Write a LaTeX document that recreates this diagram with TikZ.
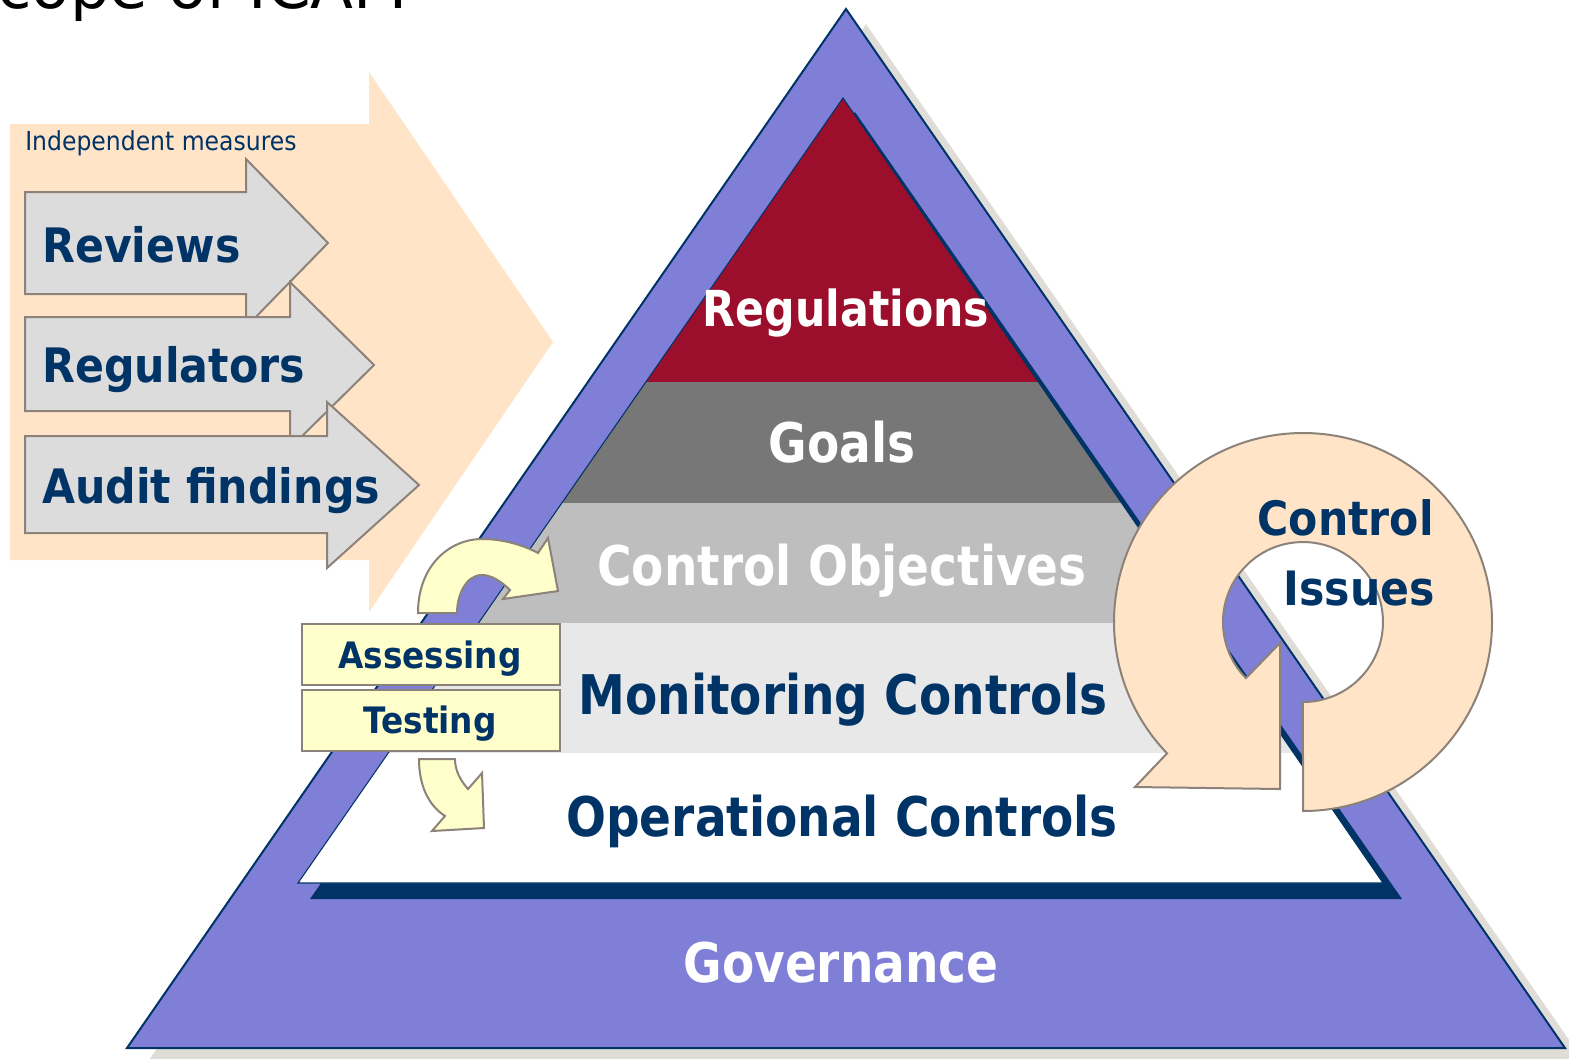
\documentclass[tikz,border=0pt]{standalone}
\usepackage{fontspec}
\setmainfont{DejaVu Sans}
\newfontfamily\tahfont[FakeStretch=0.86]{DejaVu Sans}
\newfontfamily\verfont[FakeStretch=0.9]{DejaVu Sans}

\definecolor{navy}{RGB}{0,51,102}
\definecolor{govpurple}{RGB}{127,127,215}
\definecolor{dropgray}{RGB}{224,221,216}
\definecolor{regred}{RGB}{155,14,44}
\definecolor{goalgray}{RGB}{119,119,119}
\definecolor{objgray}{RGB}{190,190,190}
\definecolor{mongray}{RGB}{232,232,232}
\definecolor{peach}{RGB}{255,228,200}
\definecolor{armgray}{RGB}{220,220,220}
\definecolor{edgebrown}{RGB}{140,130,121}
\definecolor{paleyellow}{RGB}{255,255,204}

\tikzset{
  pyrlabel/.style={anchor=base, inner sep=0pt, font=\tahfont\bfseries\fontsize{41}{49}\selectfont},
  armlabel/.style={anchor=base west, inner sep=0pt, text=navy, font=\verfont\bfseries\fontsize{35.6}{43}\selectfont},
  boxlabel/.style={anchor=base, inner sep=0pt, text=navy, font=\verfont\bfseries\fontsize{27.3}{32}\selectfont},
  issuelabel/.style={anchor=base east, inner sep=0pt, text=navy, font=\verfont\bfseries\fontsize{35.5}{42}\selectfont},
  grayarm/.style={fill=armgray, draw=edgebrown, line width=1.5pt, line join=miter},
  yelshape/.style={fill=paleyellow, draw=edgebrown, line width=1.5pt},
}

\begin{document}
\begin{tikzpicture}[x=0.75pt,y=0.75pt,yscale=-1,xscale=1]
\useasboundingbox (0,0) rectangle (1569,1058);

% Text Node
\node[anchor=base east, inner sep=0pt, font=\fontsize{47}{56}\selectfont] (title) at (408,8) {Scope of ICAM};

%Shape: Right Arrow
\fill[peach] (10,124) -- (369,124) -- (369,72) -- (553,342) -- (369,612) -- (369,560) -- (10,560) -- cycle;
% Text Node
\node[anchor=base west, inner sep=0pt, text=navy, font=\verfont\fontsize{19.6}{23}\selectfont] (indep) at (25,150) {Independent measures};

%Shape: Right Arrow
\draw[grayarm] (25,192) -- (246,192) -- (246,159) -- (328,243) -- (246,327) -- (246,294) -- (25,294) -- cycle;
%Shape: Right Arrow
\draw[grayarm] (25,317) -- (290,317) -- (290,282) -- (374,365) -- (290,448) -- (290,411) -- (25,411) -- cycle;
%Shape: Right Arrow
\draw[grayarm] (25,436) -- (327,436) -- (327,402) -- (419,485) -- (327,568) -- (327,533) -- (25,533) -- cycle;

% Text Node
\node[armlabel] (reviews) at (42,262) {Reviews};
% Text Node
\node[armlabel] (regulators) at (42,382) {Regulators};
% Text Node
\node[armlabel] (audit) at (42,503) {Audit findings};

%Shape: Triangle
\fill[dropgray] (866,24) -- (1585,1063) -- (147,1063) -- cycle;
\draw[navy, fill=govpurple, line width=1.5pt] (846,9) -- (1565,1048) -- (127,1048) -- cycle;
%Shape: Triangle
\fill[navy] (855,112) -- (1402,899) -- (310,899) -- cycle;
\begin{scope}
\clip (843,98) -- (1383,883) -- (298,883) -- cycle;
\fill[regred] (250,90) rectangle (1450,382);
\fill[goalgray] (250,382) rectangle (1450,503);
\fill[objgray] (250,503) rectangle (1450,623);
\fill[mongray] (250,623) rectangle (1450,753);
\fill[white] (250,753) rectangle (1450,890);
\end{scope}
\draw[navy, line width=0.8pt] (843,98) -- (1383,883) -- (298,883) -- cycle;

% Text Node
\node[pyrlabel, text=white, font=\tahfont\bfseries\fontsize{37.2}{44}\selectfont] (regs) at (846,326) {Regulations};
% Text Node
\node[pyrlabel, text=white] (goals) at (842,462) {Goals};
% Text Node
\node[pyrlabel, text=white] (objectives) at (842,585) {Control Objectives};
% Text Node
\node[pyrlabel, text=navy] (monitoring) at (843,714) {Monitoring Controls};
% Text Node
\node[pyrlabel, text=navy] (operational) at (842,836) {Operational Controls};
% Text Node
\node[pyrlabel, text=white] (governance) at (841,982) {Governance};

%Shape: Curved Arrow
\draw[yelshape] (418,613) .. controls (418,565) and (450,539) .. (482,539) .. controls (505,539) and (525,546) .. (538,553) -- (548,538) -- (558,591) -- (503,599) -- (510,590) .. controls (500,580) and (490,575) .. (482,575) .. controls (466,575) and (457,595) .. (457,613) -- cycle;
%Shape: Curved Arrow
\draw[yelshape] (419,759) .. controls (419,785) and (428,805) .. (445,816) -- (432,831) -- (484,828) -- (482,773) -- (468,789) .. controls (460,780) and (455,770) .. (455,759) -- cycle;

%Shape: Rectangle
\draw[yelshape] (302,624) rectangle (560,685);
%Shape: Rectangle
\draw[yelshape] (302,690) rectangle (560,751);
% Text Node
\node[boxlabel] (assess) at (430,668) {Assessing};
% Text Node
\node[boxlabel] (testing) at (430,733) {Testing};

%Shape: Circular Arrow
\draw[fill=peach, draw=edgebrown, line width=1.5pt] (1303,811) arc[start angle=90, end angle=-224, radius=189] -- (1135,787) -- (1280,789) -- (1280,643) -- (1245.9,678.1) arc[start angle=-224.5, end angle=90, radius=80] -- cycle;

% Text Node
\node[issuelabel] (ctrl) at (1434,535) {Control};
% Text Node
\node[issuelabel] (issues) at (1435,605) {Issues};

\end{tikzpicture}
\end{document}
